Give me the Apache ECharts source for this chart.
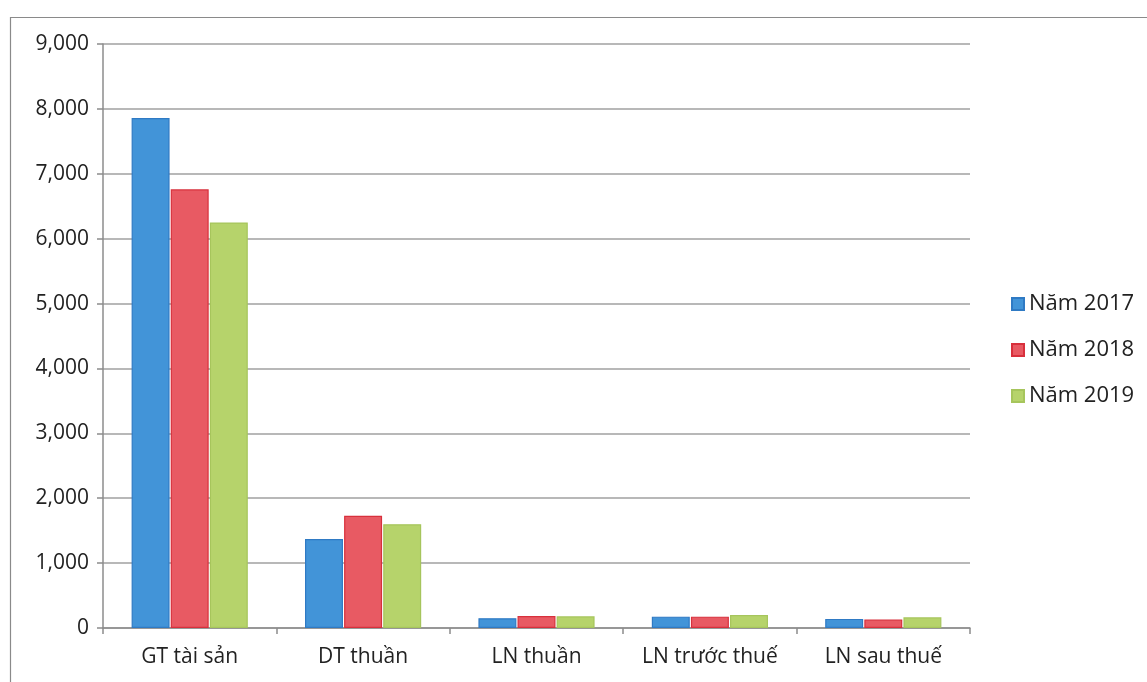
<!DOCTYPE html>
<html><head><meta charset="utf-8">
<script src="https://cdn.jsdelivr.net/npm/echarts@6/dist/echarts.min.js"></script>
<style>html,body{margin:0;padding:0;background:#fff}#c{width:1147px;height:682px}</style>
</head><body><div id="c"></div>
<script>
const categories = ['GT tài sản', 'DT thuần', 'LN thuần', 'LN trước thuế', 'LN sau thuế'];
const seriesNames = ['Năm 2017', 'Năm 2018', 'Năm 2019'];
const v2017 = [7860, 1370, 150, 175, 140];
const v2018 = [6760, 1730, 185, 175, 130];
const v2019 = [6250, 1600, 180, 200, 165];
const yTicks = [0, 1000, 2000, 3000, 4000, 5000, 6000, 7000, 8000, 9000];

const fills = ['#4294d8', '#e85a63', '#b6d36b'];
const borders = ['#2f7ac4', '#d8303c', '#a6c55c'];
const values = [v2017, v2018, v2019];
const font = 'Open Sans, Noto Sans, sans-serif';

const chart = echarts.init(document.getElementById('c'));
chart.setOption({
  animation: false,
  backgroundColor: '#fff',
  graphic: [{type: 'rect', left: 8, top: 15, shape: {width: 1160, height: 700},
    style: {fill: 'none', stroke: '#8a8a8a', lineWidth: 1.2}, z: -1}],
  grid: {left: 103, right: 177, top: 44, bottom: 54, containLabel: false},
  legend: {
    orient: 'vertical', left: 1006, top: 288, itemGap: 24,
    itemWidth: 12, itemHeight: 12, icon: 'rect',
    textStyle: {fontFamily: font, fontSize: 22, color: '#222'},
    data: seriesNames
  },
  xAxis: {
    type: 'category', data: categories,
    axisLine: {lineStyle: {color: '#8c8c8c', width: 1.5}},
    axisTick: {show: true, length: 6, lineStyle: {color: '#8c8c8c', width: 1.5}},
    axisLabel: {fontFamily: font, fontSize: 21, color: '#222', margin: 19, interval: 0}
  },
  yAxis: {
    type: 'value', min: 0, max: 9000, interval: 1000,
    axisLine: {show: true, lineStyle: {color: '#8c8c8c', width: 1.5}},
    axisTick: {show: true, length: 6, lineStyle: {color: '#8c8c8c', width: 1.5}},
    splitLine: {lineStyle: {color: '#a0a0a0', width: 1.5}},
    axisLabel: {fontFamily: font, fontSize: 21, color: '#222', margin: 14,
      formatter: v => yTicks.includes(v) ? v.toLocaleString('en-US') : ''}
  },
  series: seriesNames.map((n, i) => ({
    name: n, type: 'bar', data: values[i],
    barGap: '3%', barCategoryGap: '33%',
    itemStyle: {color: fills[i], borderColor: borders[i], borderWidth: 1.2}
  }))
});
</script></body></html>
